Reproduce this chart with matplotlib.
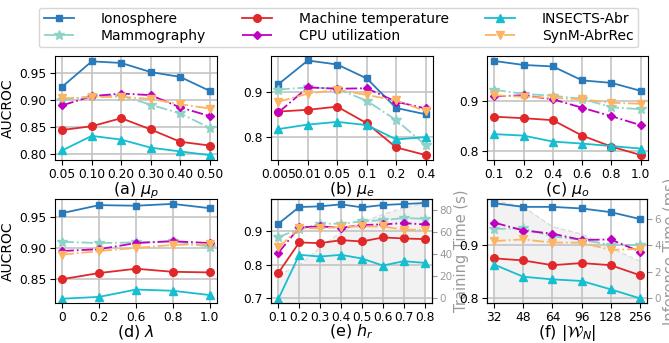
import numpy as np
import matplotlib
matplotlib.use('Agg')
import matplotlib.pyplot as plt
from matplotlib.ticker import FormatStrFormatter

plt.rcParams['font.size'] = 10

#-- dataset names and styles
names = ['Ionosphere', 'Mammography', 'Machine temperature',
         'CPU utilization', 'INSECTS-Abr', 'SynM-AbrRec']
colors = ['#2a7ab9', '#8dd3c7', '#e0282a', '#c000c0', '#17becf', '#fdb462']
markers = ['s', '*', 'o', 'D', '^', 'v']
msizes = [5, 7, 5.5, 4.5, 5.5, 5.5]
lstyles = ['-', '-.', '-', '-.', '-', '-.']

#-- (a) mu_p
xa = ['0.05', '0.10', '0.20', '0.30', '0.40', '0.50']
a_iono = [0.925, 0.972, 0.969, 0.952, 0.943, 0.917]
a_mamm = [0.900, 0.907, 0.908, 0.891, 0.875, 0.848]
a_mach = [0.844, 0.851, 0.866, 0.845, 0.822, 0.815]
a_cpu = [0.890, 0.907, 0.912, 0.909, 0.886, 0.870]
a_ins = [0.806, 0.833, 0.826, 0.811, 0.804, 0.797]
a_synm = [0.903, 0.905, 0.906, 0.902, 0.892, 0.884]

#-- (b) mu_e
xb = ['0.005', '0.01', '0.05', '0.1', '0.2', '0.4']
b_iono = [0.917, 0.970, 0.961, 0.930, 0.864, 0.850]
b_mamm = [0.905, 0.910, 0.907, 0.880, 0.837, 0.781]
b_mach = [0.856, 0.860, 0.867, 0.830, 0.776, 0.759]
b_cpu = [0.854, 0.910, 0.907, 0.908, 0.878, 0.863]
b_ins = [0.817, 0.827, 0.833, 0.826, 0.794, 0.799]
b_synm = [0.878, 0.896, 0.905, 0.893, 0.881, 0.857]

#-- (c) mu_o
xc = ['0.1', '0.2', '0.4', '0.6', '0.8', '1.0']
c_iono = [0.981, 0.973, 0.970, 0.942, 0.937, 0.921]
c_mamm = [0.923, 0.915, 0.911, 0.905, 0.888, 0.884]
c_mach = [0.869, 0.866, 0.862, 0.831, 0.809, 0.792]
c_cpu = [0.910, 0.912, 0.904, 0.887, 0.870, 0.852]
c_ins = [0.834, 0.831, 0.819, 0.815, 0.810, 0.805]
c_synm = [0.912, 0.909, 0.907, 0.904, 0.897, 0.895]

#-- (d) lambda
xd = ['0', '0.2', '0.6', '0.8', '1.0']
d_iono = [0.957, 0.970, 0.969, 0.972, 0.965]
d_mamm = [0.910, 0.908, 0.909, 0.911, 0.902]
d_mach = [0.849, 0.859, 0.866, 0.861, 0.860]
d_cpu = [0.895, 0.898, 0.908, 0.911, 0.908]
d_ins = [0.817, 0.820, 0.832, 0.830, 0.823]
d_synm = [0.889, 0.895, 0.900, 0.905, 0.906]

#-- (e) h_r
xe = ['0.1', '0.2', '0.3', '0.4', '0.5', '0.6', '0.7', '0.8']
e_iono = [0.923, 0.973, 0.975, 0.981, 0.972, 0.979, 0.982, 0.985]
e_mamm = [0.883, 0.907, 0.923, 0.923, 0.930, 0.934, 0.940, 0.938]
e_mach = [0.776, 0.867, 0.865, 0.874, 0.870, 0.882, 0.879, 0.877]
e_cpu = [0.836, 0.912, 0.915, 0.911, 0.919, 0.921, 0.925, 0.921]
e_ins = [0.698, 0.830, 0.825, 0.830, 0.819, 0.798, 0.811, 0.806]
e_synm = [0.852, 0.910, 0.909, 0.914, 0.915, 0.915, 0.905, 0.905]
e_train = [21, 30, 46, 60, 69, 76, 82, 86]   # training time (s)

#-- (f) |W_N|
xf = ['32', '48', '64', '96', '128', '256']
f_iono = [0.980, 0.973, 0.973, 0.970, 0.963, 0.950]
f_mamm = [0.931, 0.932, 0.917, 0.910, 0.901, 0.900]
f_mach = [0.875, 0.871, 0.862, 0.866, 0.862, 0.843]
f_cpu = [0.943, 0.928, 0.922, 0.910, 0.911, 0.888]
f_ins = [0.863, 0.840, 0.835, 0.832, 0.816, 0.799]
f_synm = [0.908, 0.911, 0.905, 0.905, 0.891, 0.893]
f_infer = [7.4, 6.9, 5.4, 4.85, 3.8, 2.8]   # inference time (ms)


def panel(rect, xlabels, series, xlabel, ylim, yticks, fmt, ylab=False):
    ax = fig.add_axes(rect)
    x = np.arange(len(xlabels))
    for i, vals in enumerate(series):
        ax.plot(x, vals, color=colors[i], marker=markers[i], ms=msizes[i],
                ls=lstyles[i], lw=1.3, label=names[i])
    ax.set_xticks(x)
    ax.set_xticklabels(xlabels)
    ax.set_ylim(ylim)
    ax.set_yticks(yticks)
    ax.yaxis.set_major_formatter(FormatStrFormatter(fmt))
    ax.grid(True, color='#c4c4c4', lw=1.2)
    ax.set_axisbelow(True)
    ax.tick_params(labelsize=8.8, pad=2.5)
    ax.set_xlabel(xlabel, fontsize=11.5, labelpad=-1)
    if ylab:
        ax.set_ylabel('AUCROC', fontsize=10, labelpad=3)
    return ax, x


def twin(ax, x, vals, ylim, yticks, label):
    ax2 = ax.twinx()
    ax2.fill_between(x, ylim[0], vals, color='#f2f2f2', lw=0)
    ax2.plot(x, vals, color='#dcdcdc', ls='--', lw=1)
    ax2.set_ylim(ylim)
    ax2.set_yticks(yticks)
    ax2.tick_params(labelsize=7.5, colors='#9a9a9a', pad=2)
    ax2.set_ylabel(label, color='#9a9a9a', fontsize=10.5, labelpad=1)
    ax.set_zorder(ax2.get_zorder() + 1)
    ax.patch.set_visible(False)
    return ax2


fig = plt.figure(figsize=(6.69, 3.43), dpi=100)

W, H = 669., 343.
def rect(l, r, t, b):
    return [l / W, 1 - b / H, (r - l) / W, (b - t) / H]

ax_a, _ = panel(rect(55, 217, 56, 160), xa,
                [a_iono, a_mamm, a_mach, a_cpu, a_ins, a_synm],
                r'(a) $\mu_p$', (0.788, 0.982),
                [0.80, 0.85, 0.90, 0.95], '%.2f', ylab=True)
panel(rect(271, 433, 56, 160), xb,
      [b_iono, b_mamm, b_mach, b_cpu, b_ins, b_synm],
      r'(b) $\mu_e$', (0.748, 0.980), [0.8, 0.9], '%.1f')
panel(rect(487, 648, 56, 160), xc,
      [c_iono, c_mamm, c_mach, c_cpu, c_ins, c_synm],
      r'(c) $\mu_o$', (0.782, 0.991), [0.8, 0.9], '%.1f')
panel(rect(55, 217, 199, 303), xd,
      [d_iono, d_mamm, d_mach, d_cpu, d_ins, d_synm],
      r'(d) $\lambda$', (0.810, 0.980), [0.85, 0.90, 0.95], '%.2f',
      ylab=True)
ax_e, x_e = panel(rect(271, 432, 199, 303), xe,
                  [e_iono, e_mamm, e_mach, e_cpu, e_ins, e_synm],
                  r'(e) $h_r$', (0.686, 0.997), [0.7, 0.8, 0.9], '%.1f')
twin(ax_e, x_e, e_train, (-4.3, 90), [0, 20, 40, 60, 80], 'Training Time (s)')
ax_f, x_f = panel(rect(487, 647, 199, 303), xf,
                  [f_iono, f_mamm, f_mach, f_cpu, f_ins, f_synm],
                  r'(f) $|\mathcal{W}_N|$', (0.790, 0.988), [0.8, 0.9], '%.1f')
twin(ax_f, x_f, f_infer, (-0.36, 7.5), [0, 2, 4, 6], 'Inference Time (ms)')

#-- legend on top
h, l = ax_a.get_legend_handles_labels()
fig.legend(h, l, loc='upper center', bbox_to_anchor=(0.506, 0.998), ncol=3,
           fontsize=10, handlelength=2.2, handletextpad=1.9,
           columnspacing=2.6, labelspacing=0.25, borderpad=0.3)

plt.savefig('out.png', dpi=100)
